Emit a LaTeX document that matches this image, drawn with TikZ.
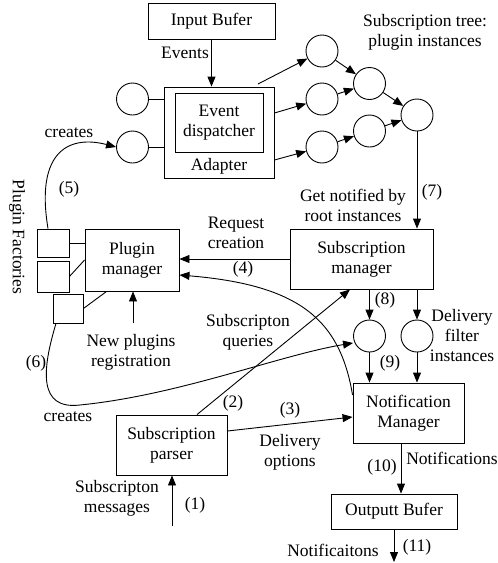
\documentclass[tikz,border=0pt]{standalone}
\usepackage{fontspec}
\setmainfont{Liberation Serif}
\newfontfamily\labelfont{Liberation Serif}
\usetikzlibrary{arrows.meta}
\begin{document}
\begin{tikzpicture}[x=1pt,y=-1pt,
  every node/.style={font=\labelfont\fontsize{17.5}{20}\selectfont, align=center, inner sep=0pt},
  box/.style={draw, line width=0.9pt, rectangle},
  inst/.style={draw, line width=0.9pt, circle, minimum size=32pt},
  lbl/.style={},
  conn/.style={line width=0.9pt},
  arr/.style={line width=0.9pt, -{Triangle[length=10pt,width=8pt]}}]
\useasboundingbox (0,0) rectangle (498,563);

% boxes
\node[box, minimum width=127pt, minimum height=36pt] (inbuf) at (211.5,21) {Input Bufer};
\node[box, minimum width=110pt, minimum height=91pt] (adapter) at (219,132.5) {};
\node[box, minimum width=88pt, minimum height=59pt] (disp) at (219,122.5) {Event\\dispatcher};
\node[lbl] (adlbl) at (219,166) {Adapter};
\node[box, minimum width=143pt, minimum height=60pt] (sm) at (361.5,259) {Subscription\\manager};
\node[box, minimum width=94pt, minimum height=62pt] (pm) at (132,260) {Plugin\\manager};
\node[box, minimum width=32pt, minimum height=28pt] (f1) at (53,243) {};
\node[box, minimum width=32pt, minimum height=31pt] (f2) at (53,276.5) {};
\node[box, minimum width=30pt, minimum height=29pt] (f3) at (68,308.5) {};
\node[box, minimum width=111pt, minimum height=60pt] (sp) at (171.5,445) {Subscription\\parser};
\node[box, minimum width=111pt, minimum height=60pt] (nm) at (408.5,413) {Notification\\Manager};
\node[box, minimum width=126pt, minimum height=35pt] (ob) at (394,511.5) {Outputt Bufer};

% plugin instances
\node[inst] (lc1) at (132.5,99) {};
\node[inst] (lc2) at (132.5,147) {};
\node[inst] (t1) at (322,51) {};
\node[inst] (t2) at (322,99) {};
\node[inst] (t3) at (322,147) {};
\node[inst] (t4) at (369.5,83.5) {};
\node[inst] (t5) at (369.5,131) {};
\node[inst] (root) at (417,115) {};
\node[inst] (d1) at (369.5,336) {};
\node[inst] (d2) at (417,336) {};

% free ends
\coordinate (a1) at (258,84);
\coordinate (in1) at (172,526);
\coordinate (reg) at (133,323);
\coordinate (out) at (394,562);

% labels
\node (lev) at (185,53) {Events};
\node (ltree) at (425,32) {Subscription tree:\\plugin instances};
\node (l7) at (432,192) {(7)};
\node (lroot) at (353,205) {Get notified by\\root instances};
\node (lreq) at (236,233) {Request\\creation};
\node (l4) at (243,269) {(4)};
\node[rotate=-90] (lfact) at (17,237) {Plugin Factories};
\node (lcr1) at (69,133) {creates};
\node (l5) at (69,189) {(5)};
\node (l6) at (36,363) {(6)};
\node (lcr2) at (68,417) {creates};
\node (lnew) at (131,352) {New plugins\\registration};
\node (lq) at (248,332) {Subscripton\\queries};
\node (l2) at (233,403) {(2)};
\node (l3) at (290,410) {(3)};
\node (ldo) at (290,452) {Delivery\\options};
\node (lmsg) at (117,498) {Subscripton\\messages};
\node (l1) at (195,505) {(1)};
\node (l8) at (385,300) {(8)};
\node (l9) at (390,363) {(9)};
\node (ldf) at (462,336) {Delivery\\filter\\instances};
\node (l10) at (382,467) {(10)};
\node (lnot) at (452,458) {Notifications};
\node (lnot2) at (333,550) {Notificaitons};
\node (l11) at (417,547) {(11)};

% connectors
\draw[arr] (inbuf.south) -- (inbuf.south |- adapter.north);
\draw[conn] (lc1) -- (lc1 -| adapter.west);
\draw[conn] (lc2) -- (lc2 -| adapter.west);
\draw[arr] (a1) -- (t1);
\draw[arr] ([yshift=19.5pt]adapter.east) -- (t2);
\draw[arr] ([yshift=-27.5pt]adapter.east) -- (t3);
\draw[arr] (t1) -- (t4);
\draw[arr] (t2) -- (t4);
\draw[arr] (t3) -- (t5);
\draw[arr] (t4) -- (root);
\draw[arr] (t5) -- (root);
\draw[arr] (root) -- (root |- sm.north);
\draw[arr] (sm.west) -- (sm.west -| pm.east);
\draw[arr] (d1 |- sm.south) -- (d1);
\draw[arr] (d2 |- sm.south) -- (d2);
\draw[arr] (d1) -- (d1 |- nm.north);
\draw[arr] (d2) -- (d2 |- nm.north);
\draw[arr] ([xshift=-7.5pt]nm.south) -- ([xshift=-7.5pt]nm.south |- ob.north);
\draw[arr] (ob.south) -- (out);
\draw[arr] (in1) -- (in1 |- sp.south);
\draw[arr] ([xshift=25.5pt]sp.north) -- ([xshift=-11.5pt]sm.south);
\draw[arr] ([yshift=14pt]sp.east) -- ([yshift=-4pt]nm.west);
\draw[arr] ([yshift=18pt]nm.west) .. controls (340,320) and (300,285) .. ([yshift=-15pt]pm.east);
\draw[arr] (reg) -- (reg |- pm.south);
\draw[conn] (f1.east) -- (f1.east -| pm.west);
\draw[conn] (f2.east) -- (pm.west);
\draw[conn] (f3.east) -- ([xshift=22pt]pm.south west);
\draw[arr] ([xshift=-5pt]f1.north) .. controls (35,150) and (70,135) .. (lc2.west);
\draw[arr] ([xshift=-12pt]f3.south) .. controls (42,370) and (38,410) .. (80,405)
  .. controls (180,395) and (280,355) .. ([yshift=-7pt]d1.west);
\end{tikzpicture}
\end{document}
